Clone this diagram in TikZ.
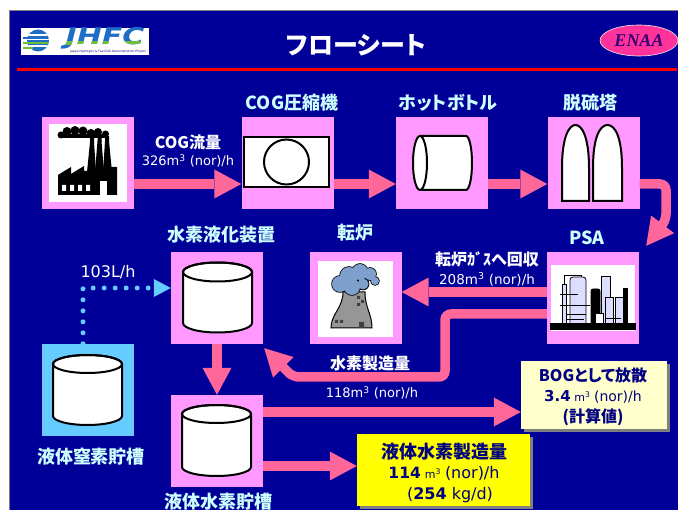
\documentclass[tikz,border=0pt]{standalone}
\usepackage{fontspec}
\setmainfont{Noto Sans CJK JP}[RawFeature=+palt]
\newfontfamily\dvfont{DejaVu Sans}
\newfontfamily\serifbi{Liberation Serif}
\usetikzlibrary{arrows.meta,shapes.geometric,shadows}

\definecolor{bgblue}{RGB}{0,0,153}
\definecolor{boxpink}{RGB}{255,153,255}
\definecolor{arrowpink}{RGB}{255,102,153}
\definecolor{lblue}{RGB}{102,204,255}
\definecolor{labcyan}{RGB}{204,255,255}
\definecolor{navytext}{RGB}{0,0,128}
\definecolor{paleyellow}{RGB}{255,255,204}
\definecolor{brightyellow}{RGB}{255,255,0}
\definecolor{enaapink}{RGB}{255,51,153}
\definecolor{enaatext}{RGB}{51,0,120}
\definecolor{lav}{RGB}{221,221,255}
\definecolor{towergray}{RGB}{150,150,150}
\definecolor{smoke}{RGB}{127,160,205}
\definecolor{jblue}{RGB}{30,110,200}
\definecolor{jgreen}{RGB}{110,190,60}

% vertical tank: centre x, top-ellipse y, x radius, y radius, bottom y
\newcommand\tankcyl[5]{%
  \filldraw[fill=white,draw=black,line width=2pt]
    (#1-#3,#2) -- (#1-#3,#5)
    arc[start angle=180,end angle=360,x radius=#3,y radius=#4]
    -- (#1+#3,#2)
    arc[start angle=0,end angle=180,x radius=#3,y radius=#4] -- cycle;
  \draw[line width=2pt] (#1,#2) ellipse[x radius=#3,y radius=#4];
}

\begin{document}
\begin{tikzpicture}[x=1pt,y=1pt,
  pbox/.style={fill=boxpink,minimum width=92pt,minimum height=92pt,inner sep=0pt},
  parrow/.style={draw=arrowpink,line width=9.5pt,rounded corners=6pt,
    -{Triangle[width=29pt,length=27pt,line width=0pt]}},
  dotarrow/.style={draw=lblue,line width=5pt,line cap=round,dash pattern=on 0pt off 11pt,
    -{Triangle[width=18pt,length=17pt,line width=0pt]}},
  lab/.style={text=labcyan,font=\fontsize{18}{20}\selectfont\bfseries,inner sep=0pt},
  wlab/.style={text=white,font=\fontsize{16}{18}\selectfont\bfseries,inner sep=0pt},
  num/.style={text=white,font=\dvfont\fontsize{13}{15}\selectfont,inner sep=0pt},
  notebox/.style={minimum width=#1,inner sep=0pt,
    general shadow={fill=gray,shadow xshift=3pt,shadow yshift=-3pt}},
]
\useasboundingbox (0,0) rectangle (678,-510);
\fill[white] (0,0) rectangle (678,-510);
\fill[bgblue] (10,-11) rectangle (678,-510);
\draw[gray,line width=1pt] (9.5,-510) -- (9.5,-10.5) -- (678,-10.5);

% ---------- header ----------
\fill[white] (21,-28) rectangle (149,-55);
\begin{scope}
  \clip (38,-40.5) circle (11);
  \fill[jblue] (26,-29) rectangle (50,-52);
  \fill[white] (26,-34.5) rectangle (50,-36);
  \fill[white] (26,-39) rectangle (50,-40.5);
  \fill[jgreen] (26,-42) rectangle (50,-44);
  \fill[white] (26,-45.5) rectangle (50,-47);
\end{scope}
\fill[jblue] (23,-37.2) rectangle (33,-38.6);
\fill[jgreen] (23,-42) rectangle (33,-44);
\fill[jgreen] (23,-47.2) rectangle (33,-48.6);
\node[text=jblue,inner sep=0pt,font=\dvfont\bfseries\itshape\fontsize{23}{23}\selectfont] (jhfc) at (105,-38.5)
  {\scalebox{1.3}[1]{JHFC}};
\begin{scope}
  \clip (60,-41.5) rectangle (150,-44.5);
  \node[text=jgreen,inner sep=0pt,font=\dvfont\bfseries\itshape\fontsize{23}{23}\selectfont] (jhfcg) at (105,-38.5)
    {\scalebox{1.3}[1]{JHFC}};
\end{scope}
\node[text=navytext,inner sep=0pt,font=\dvfont\fontsize{3}{3}\selectfont] (jhfcsub) at (108,-52)
  {Japan Hydrogen \& Fuel Cell Demonstration Project};

\node[text=white,inner sep=0pt,font=\fontsize{25}{28}\selectfont\bfseries] (title) at (356,-45) {フローシート};
\node[ellipse,fill=enaapink,draw=white!85!gray,line width=0.6pt,minimum width=78pt,minimum height=31pt,
  inner sep=0pt,text=enaatext,font=\serifbi\bfseries\itshape\fontsize{18}{18}\selectfont] (enaa) at (639,-40.5) {ENAA};
\draw[red,line width=3pt] (17,-69.5) -- (677,-69.5);

% ---------- equipment boxes ----------
\node[pbox] (factory) at (88,-163) {};
\node[pbox] (comp) at (287.5,-163.5) {};
\node[pbox] (hotb) at (442,-163.5) {};
\node[pbox] (desulf) at (593.5,-163.5) {};
\node[pbox] (psa) at (593,-298) {};
\node[pbox] (conv) at (355.5,-298) {};
\node[pbox] (liq) at (217,-298) {};
\node[pbox,fill=lblue] (ln2) at (87.5,-390) {};
\node[pbox] (lh2) at (217,-441) {};

% factory
\fill[white] (49,-124) rectangle (127,-202);
\fill[black] (58,-195) -- (58,-175) -- (71,-167) -- (71,-174) -- (84,-166) -- (84,-171)
  -- (100,-171) -- (100,-167) -- (117,-167) -- (117,-195) -- cycle;
\fill[black] (87,-172) -- (90,-142) -- (94,-142) -- (96,-172) -- cycle;
\fill[black] (95,-172) -- (97.5,-141) -- (101.5,-141) -- (104,-172) -- cycle;
\fill[black] (103,-172) -- (105,-141) -- (109,-141) -- (112,-172) -- cycle;
\fill[black] (61,-135) circle (3.5) (67,-131.5) circle (4.5) (75,-130.5) circle (4.5)
  (83,-131) circle (4.5) (91,-133) circle (4) (98,-132) circle (4) (105.5,-134) circle (3.5);
\fill[black] (62,-138) rectangle (108,-134);
\fill[black] (90,-143) rectangle (94,-136) (97.5,-142) rectangle (101.5,-135) (105,-142) rectangle (109,-136);
\fill[white] (62,-185) rectangle (66,-191) (70,-185) rectangle (74,-191)
  (78,-185) rectangle (82,-191) (86,-185) rectangle (90,-191);
\fill[white] (100,-181) rectangle (107,-195);

% compressor
\filldraw[fill=white,draw=black,line width=2pt] (244,-137) rectangle (329,-187);
\filldraw[fill=white,draw=black,line width=2pt] (286.5,-162) circle (22.5);

% hot bottle
\filldraw[fill=white,draw=black,line width=2pt] (420,-136) -- (466,-136)
  arc[start angle=90,end angle=-90,x radius=6,y radius=27] -- (420,-190);
\filldraw[fill=white,draw=black,line width=2pt] (420,-163) ellipse[x radius=7,y radius=27];

% desulfurisers
\filldraw[fill=white,draw=black,line width=2pt] (562,-201) -- (562,-168)
  .. controls (562,-137) and (569,-125) .. (575.5,-125)
  .. controls (582,-125) and (589,-137) .. (589,-168) -- (589,-201) -- cycle;
\filldraw[fill=white,draw=black,line width=2pt] (593,-201) -- (593,-168)
  .. controls (593,-137) and (600,-125) .. (607.5,-125)
  .. controls (615,-125) and (622,-137) .. (622,-168) -- (622,-201) -- cycle;

% PSA plant
\fill[white] (551,-265) rectangle (635,-331);
\fill[black] (550,-323) rectangle (636,-330);
\begin{scope}[line width=0.8pt]
  \filldraw[fill=lav] (562,-284) rectangle (566,-323);
  \filldraw[fill=lav,rounded corners=3pt] (570,-323) -- (570,-277) -- (586,-277) -- (586,-323);
  \draw (564,-284) -- (564,-275) -- (581,-275) -- (581,-277);
  \draw (560,-294) -- (578,-294) (560,-305) -- (590,-305) (566,-314) -- (586,-314) (566,-319) -- (584,-319);
  \filldraw[fill=black,rounded corners=2pt] (591,-323) -- (591,-289) -- (600,-289) -- (600,-323);
  \filldraw[fill=lav] (601,-276) rectangle (610,-323);
  \filldraw[fill=lav] (605,-297) rectangle (613,-323);
  \filldraw[fill=lav] (615,-297) rectangle (623,-323);
  \filldraw[fill=black] (623,-288) rectangle (627,-323);
  \filldraw[fill=white] (595,-313) rectangle (603,-323);
  \draw (605,-318) -- (621,-318);
\end{scope}

% converter with cooling tower
\fill[white] (318,-261) rectangle (393,-337);
\filldraw[fill=towergray,draw=black,line width=1pt] (343,-292) .. controls (343,-308) and (331,-314) .. (331,-328)
  -- (372,-328) .. controls (372,-314) and (365,-308) .. (365,-292) -- cycle;
\fill[black!75] (357,-296) rectangle (360,-299) (361,-300) rectangle (364,-303) (357,-303) rectangle (360,-306)
  (335,-320) rectangle (338,-323) (340,-320) rectangle (343,-323) (359,-322) rectangle (364,-328);
\fill[black] (340,-284) circle (8.8) (349,-276) circle (9.8) (360,-272) circle (8.8) (370,-274) circle (6.8)
  (375,-281) circle (4.8) (352,-287) circle (8.8) (363,-284) circle (6.3);
\fill[smoke] (340,-284) circle (8) (349,-276) circle (9) (360,-272) circle (8) (370,-274) circle (6)
  (375,-281) circle (4) (352,-287) circle (8) (363,-284) circle (5.5);

% tanks
\tankcyl{217.5}{-272}{34.5}{9.5}{-323}
\tankcyl{87.5}{-364}{34.5}{9}{-416}
\tankcyl{216.5}{-414}{34.5}{9}{-467}

% result boxes
\node[notebox=146pt,fill=paleyellow,minimum height=68pt] (bog) at (594,-395) {};
\node[notebox=173pt,fill=brightyellow,minimum height=72pt] (out) at (443.5,-470) {};

% ---------- flows ----------
\draw[parrow] ([yshift=-21pt]factory.east) -- ([yshift=-21pt]factory.east -| comp.west);
\draw[parrow] ([yshift=-20.5pt]comp.east) -- ([yshift=-20.5pt]comp.east -| hotb.west);
\draw[parrow] ([yshift=-20.5pt]hotb.east) -- ([yshift=-20.5pt]hotb.east -| desulf.west);
\coordinate (psain) at ([shift={(7pt,6pt)}]psa.north east);
\draw[parrow] ([yshift=-20.5pt]desulf.east) -- (666,-184) -- (666,-220) -- (psain);
\draw[parrow] ([yshift=6pt]psa.west) -- ([yshift=6pt]psa.west -| conv.east);
\coordinate (liqin) at ([shift={(1pt,-4pt)}]liq.south east);
\draw[parrow] ([yshift=-16pt]psa.west) -- (445,-314) -- (445,-377) -- (293,-377) -- (liqin);
\draw[parrow] (liq.south) -- (lh2.north);
\draw[parrow] ([yshift=29pt]lh2.east) -- ([yshift=29pt]lh2.east -| bog.west);
\draw[parrow] ([yshift=-25pt]lh2.east) -- ([yshift=-25pt]lh2.east -| out.west);
\draw[dotarrow] ([xshift=-4.5pt]ln2.north) |- ([yshift=10pt]liq.west);

% ---------- labels ----------
\node[lab] (labcomp) at (292,-103) {COG圧縮機};
\node[lab] (labhotb) at (448,-103) {ホットボトル};
\node[lab] (labdesulf) at (590,-103) {脱硫塔};
\node[lab] (labpsa) at (587,-238) {PSA};
\node[lab] (labconv) at (355,-233) {転炉};
\node[lab] (labliq) at (221,-235) {水素液化装置};
\node[lab] (labln2) at (91,-457) {液体窒素貯槽};
\node[lab] (lablh2) at (218,-502) {液体水素貯槽};

\node[wlab] (cogflow) at (188,-142) {COG流量};
\node[num] (cognum) at (188,-161) {326m\textsuperscript{3} (nor)/h};
\node[wlab] (convflow) at (487,-259) {転炉ｶﾞｽへ回収};
\node[num,font=\dvfont\fontsize{13.5}{15}\selectfont] (convnum) at (487,-279) {208m\textsuperscript{3} (nor)/h};
\node[wlab] (h2flow) at (370,-363) {水素製造量};
\node[num] (h2num) at (372,-393) {118m\textsuperscript{3} (nor)/h};
\node[num,font=\dvfont\fontsize{16}{18}\selectfont] (ln2num) at (108,-272) {103L/h};

\node[text=navytext,align=center,inner sep=0pt,font=\fontsize{16}{20.5}\selectfont] (bogtxt) at (593,-396.5)
  {\textbf{BOGとして放散}\\
   {\dvfont\bfseries\fontsize{15}{15}\selectfont 3.4} {\dvfont\fontsize{11}{11}\selectfont m\textsuperscript{3}}
   {\dvfont\fontsize{14}{14}\selectfont (nor)/h}\\
   \textbf{(計算値)}};
\node[text=navytext,align=center,inner sep=0pt,font=\fontsize{18}{20.5}\selectfont] (outtxt) at (444,-472.5)
  {\textbf{液体水素製造量}\\
   {\dvfont\bfseries\fontsize{15.5}{15}\selectfont 114} {\dvfont\fontsize{11}{11}\selectfont m\textsuperscript{3}}
   {\dvfont\fontsize{16}{16}\selectfont (nor)/h}\\
   \hspace*{12pt}{\dvfont\fontsize{16}{16}\selectfont (\textbf{254} kg/d)}};
\end{tikzpicture}
\end{document}
